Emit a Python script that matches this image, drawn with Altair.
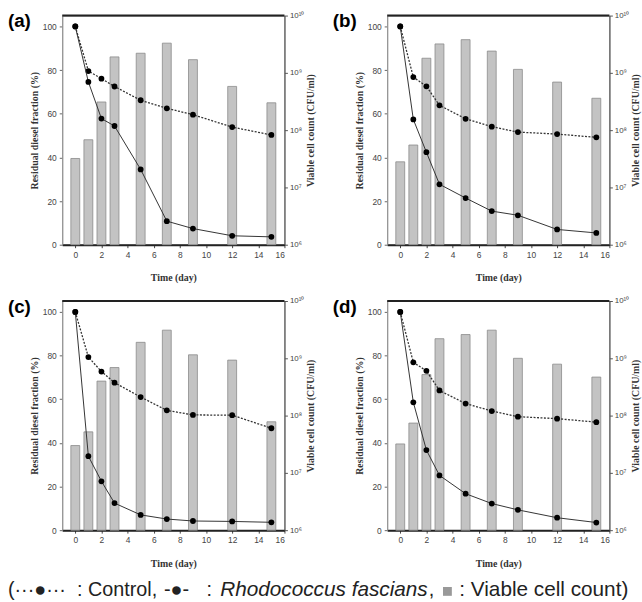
import altair as alt
import pandas as pd

days = [0, 1, 2, 3, 5, 7, 9, 12, 15]

# Viable cell count (CFU/ml), bars on the right log axis
count_a = [3.2e7, 6.8e7, 3.1e8, 1.9e9, 2.2e9, 3.3e9, 1.7e9, 5.8e8, 3.0e8]
count_b = [2.8e7, 5.5e7, 1.8e9, 3.2e9, 3.8e9, 2.4e9, 1.15e9, 6.9e8, 3.6e8]
count_c = [3.0e7, 5.2e7, 4.0e8, 6.9e8, 1.9e9, 3.1e9, 1.15e9, 9.3e8, 7.8e7]
count_d = [3.2e7, 7.4e7, 5.2e8, 2.2e9, 2.6e9, 3.1e9, 1.0e9, 7.9e8, 4.7e8]

# Residual diesel fraction (%)
control_a = [100, 79.6, 76.1, 72.5, 66.2, 62.5, 59.6, 53.9, 50.3]
rhodo_a = [100, 74.6, 57.8, 54.4, 34.5, 10.8, 7.4, 4.1, 3.6]
control_b = [100, 76.8, 72.6, 63.9, 57.7, 54.1, 51.6, 50.7, 49.2]
rhodo_b = [100, 57.4, 42.4, 27.7, 21.4, 15.4, 13.5, 7.0, 5.4]
control_c = [100, 79.3, 72.7, 67.6, 61.0, 54.9, 52.8, 52.7, 46.7]
rhodo_c = [100, 33.9, 22.4, 12.4, 7.0, 5.1, 4.2, 4.0, 3.6]
control_d = [100, 76.9, 73.0, 64.0, 58.0, 54.6, 52.0, 51.1, 49.5]
rhodo_d = [100, 58.6, 36.7, 25.1, 16.7, 12.2, 9.3, 5.7, 3.5]

panel_labels = ["(a)", "(b)", "(c)", "(d)"]
x_ticks = [0, 2, 4, 6, 8, 10, 12, 14, 16]
y_ticks = [0, 20, 40, 60, 80, 100]
log_ticks = [1e6, 1e7, 1e8, 1e9, 1e10]
count_base = 1e6

W, H = 225, 232
TICK_FONT = "Liberation Sans Narrow, Liberation Sans"
TITLE_FONT = "Liberation Serif"


def panel(label, counts, control, rhodo):
    df = pd.DataFrame({"day": days, "count": counts, "control": control,
                       "rhodo": rhodo, "base": [count_base] * len(days)})
    base = alt.Chart(df)
    X = alt.X("day:Q", scale=alt.Scale(domain=[-1, 16], nice=False, padding=0),
              axis=alt.Axis(values=x_ticks, title="Time (day)", grid=False,
                            domainColor="#222", domainWidth=2, tickSize=3,
                            tickColor="#444", labelFont=TICK_FONT, labelFontSize=8.5,
                            labelColor="#444", labelPadding=3,
                            titleFont=TITLE_FONT, titleFontWeight="bold",
                            titleFontSize=10, titleColor="#333", titlePadding=14))
    right_axis = alt.Axis(orient="right", values=log_ticks, grid=False,
                          title="Viable cell count (CFU/ml)", titleAngle=270,
                          titleBaseline="top",
                          labelExpr="datum.value >= 5e9 ? '10¹⁰' : datum.value >= 5e8 ? '10⁹' : datum.value >= 5e7 ? '10⁸' : datum.value >= 5e6 ? '10⁷' : '10⁶'",
                          domainColor="#555", tickSize=3, tickColor="#555",
                          labelFont=TICK_FONT, labelFontSize=8, labelColor="#444",
                          labelPadding=2,
                          titleFont=TITLE_FONT, titleFontWeight="bold",
                          titleFontSize=10, titleColor="#333", titlePadding=2)
    bars = base.mark_bar(size=9, color="#c3c3c3", stroke="#8a8a8a", strokeWidth=0.8).encode(
        x=X,
        y=alt.Y("count:Q", scale=alt.Scale(type="log", domain=[1e6, 1e10], nice=False, padding=0),
                axis=right_axis),
        y2="base:Q",
    )
    left_axis = alt.Axis(orient="left", values=y_ticks, grid=False,
                         title="Residual diesel fraction (%)",
                         domainColor="#999", tickSize=3, tickColor="#666",
                         labelFont=TICK_FONT, labelFontSize=8.5, labelColor="#444",
                         labelPadding=3,
                         titleFont=TITLE_FONT, titleFontWeight="bold",
                         titleFontSize=10, titleColor="#333", titlePadding=3)
    yscale = alt.Scale(domain=[0, 105], nice=False)
    ctrl = base.mark_line(color="#333", strokeWidth=1.3, strokeDash=[2, 1.5],
                          point=alt.OverlayMarkDef(filled=True, color="black", size=34, opacity=1)).encode(
        x=X, y=alt.Y("control:Q", scale=yscale, axis=left_axis))
    rh = base.mark_line(color="#333", strokeWidth=1,
                        point=alt.OverlayMarkDef(filled=True, color="black", size=34, opacity=1)).encode(
        x=X, y=alt.Y("rhodo:Q", scale=yscale, axis=left_axis))
    lines = alt.layer(ctrl, rh)
    one = pd.DataFrame({"label": [label]})
    top = alt.Chart(one).mark_rule(color="#222", strokeWidth=2).encode(
        x=alt.value(0), x2=alt.value(W), y=alt.value(0))
    lab = alt.Chart(one).mark_text(font="Liberation Sans", fontWeight="bold", fontSize=19,
                                   align="left", baseline="middle", color="black").encode(
        text="label:N", x=alt.value(-55), y=alt.value(6))
    return alt.layer(bars, lines, top, lab).resolve_scale(y="independent").properties(
        width=W, height=H, view=alt.ViewBackground(stroke="#777", strokeWidth=1))


pa = panel(panel_labels[0], count_a, control_a, rhodo_a)
pb = panel(panel_labels[1], count_b, control_b, rhodo_b)
pc = panel(panel_labels[2], count_c, control_c, rhodo_c)
pd_ = panel(panel_labels[3], count_d, control_d, rhodo_d)

one = pd.DataFrame({"t": [0]})
LY = 12
LF = 20


def seg(txt, x, style="normal", color="#222", size=LF):
    return alt.Chart(one).mark_text(text=txt, font="Liberation Sans", fontSize=size,
                                    fontStyle=style, align="left", baseline="middle",
                                    color=color).encode(x=alt.value(x), y=alt.value(LY))


OFF = 62
legend = alt.layer(
    seg("(···●···", 7 - OFF),
    seg(": Control,", 77 - OFF),
    seg("-●-", 165 - OFF),
    seg(":", 208 - OFF),
    seg("Rhodococcus fascians", 222 - OFF, style="italic", size=21),
    seg(",", 433 - OFF),
    alt.Chart(one).mark_square(size=80, color="#999", opacity=1).encode(
        x=alt.value(452 - OFF), y=alt.value(LY + 1)),
    seg(": Viable cell count)", 464 - OFF, size=21),
).properties(width=500, height=20, view=alt.ViewBackground(stroke="transparent"))

chart = alt.vconcat(
    alt.hconcat(pa, pb, spacing=15),
    alt.hconcat(pc, pd_, spacing=15),
    spacing=13,
)
chart = alt.vconcat(chart, legend, spacing=9).properties(
    padding={"left": 7, "top": 7, "right": 0, "bottom": 0}, background="white")

chart.save("out.html", embed_options={"renderer": "svg", "actions": False})
